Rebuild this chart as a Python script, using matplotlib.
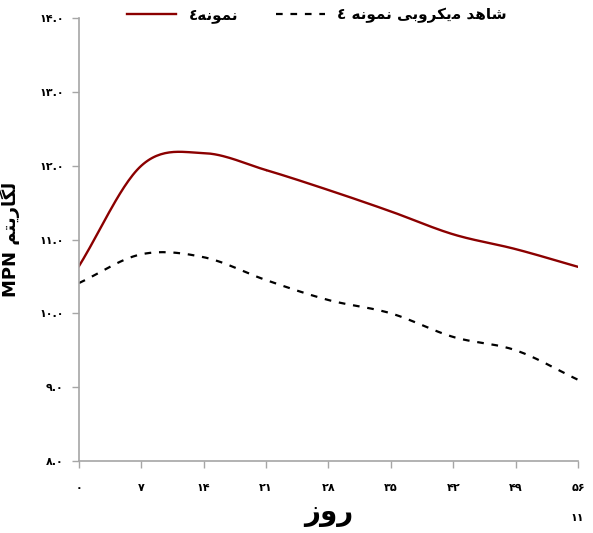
import numpy as np
import matplotlib
matplotlib.use("Agg")
import matplotlib.pyplot as plt

days = [0, 7, 14, 21, 28, 35, 42, 49, 56]
sample4 = [10.64, 12.0, 12.17, 11.94, 11.67, 11.38, 11.07, 10.87, 10.63]
control4 = [10.41, 10.80, 10.76, 10.45, 10.18, 10.0, 9.68, 9.50, 9.10]

x_labels = ["۰", "۷", "۱۴", "۲۱", "۲۸", "۳۵", "۴۲", "۴۹", "۵۶"]
y_ticks = [8, 9, 10, 11, 12, 13, 14]
y_labels = ["۸.۰", "۹.۰", "۱۰.۰", "۱۱.۰", "۱۲.۰", "۱۳.۰", "۱۴.۰"]

# persian text written in presentation forms, visual order (no shaping in mpl)
lbl_sample = "٤" + "\uFEEA\uFEE7\uFEEE\uFEE4\uFEE7"
lbl_control = ("٤ " + "\uFEEA\uFEE7\uFEEE\uFEE4\uFEE7" + " "
               + "\uFBFD\uFE91\uFEED\uFEAE\uFB91\uFBFE\uFEE3" + " "
               + "\uFEAA\uFEEB\uFE8E\uFEB7")
lbl_y = "MPN " + "\uFEE2\uFE98\uFBFE\uFEAD\uFE8E\uFB95\uFEDF"
lbl_x = "\uFEAF\uFEED\uFEAD"


def smooth(xs, ys, n=30):
    # catmull-rom style curve like excel's smoothed line
    xs = np.asarray(xs, float)
    ys = np.asarray(ys, float)
    px = np.concatenate([[2 * xs[0] - xs[1]], xs, [2 * xs[-1] - xs[-2]]])
    py = np.concatenate([[2 * ys[0] - ys[1]], ys, [2 * ys[-1] - ys[-2]]])
    ox, oy = [], []
    t = np.linspace(0, 1, n)
    for i in range(1, len(px) - 2):
        for p, out in ((px, ox), (py, oy)):
            p0, p1, p2, p3 = p[i - 1], p[i], p[i + 1], p[i + 2]
            out.extend(0.5 * ((2 * p1) + (-p0 + p2) * t
                              + (2 * p0 - 5 * p1 + 4 * p2 - p3) * t ** 2
                              + (-p0 + 3 * p1 - 3 * p2 + p3) * t ** 3))
    return ox, oy


plt.rcParams["font.family"] = ["DejaVu Sans"]
plt.rcParams["font.weight"] = "bold"

fig = plt.figure(figsize=(5.93, 5.33), dpi=100)
ax = fig.add_axes([0.1332, 0.1351, 0.8415, 0.8311])

sx, sy = smooth(days, sample4)
ax.plot(sx, sy, color="#8B0000", lw=1.7, label=lbl_sample)
cx, cy = smooth(days, control4)
ax.plot(cx, cy, color="black", lw=1.6, ls=(0, (3, 3.5)), label=lbl_control)

ax.set_xlim(0, 56)
ax.set_ylim(8, 14)
ax.set_xticks(days)
ax.set_xticklabels(x_labels, fontsize=8, fontweight="bold")
ax.set_yticks(y_ticks)
ax.set_yticklabels(y_labels, fontsize=8, fontweight="bold")

for s in ["top", "right"]:
    ax.spines[s].set_visible(False)
for s in ["left", "bottom"]:
    ax.spines[s].set_color("#a6a6a6")
    ax.spines[s].set_linewidth(1.2)
ax.tick_params(axis="both", direction="out", color="#a6a6a6", length=5, width=1)
ax.tick_params(axis="x", pad=11)
ax.tick_params(axis="y", pad=6)

ax.set_ylabel(lbl_y, fontsize=13, fontweight="bold", labelpad=14)
ax.set_xlabel(lbl_x, fontsize=20, fontweight="bold", labelpad=4)

fig.text(0.985, 0.022, "۱۱", fontsize=8, fontweight="bold", ha="right")

ax.legend(loc="center", bbox_to_anchor=(0.535, 0.972), bbox_transform=fig.transFigure,
          ncol=2, frameon=False, handlelength=3.2, columnspacing=2.5, handletextpad=0.8,
          prop={"weight": "bold", "size": 11})

fig.savefig("out.png", dpi=100)
